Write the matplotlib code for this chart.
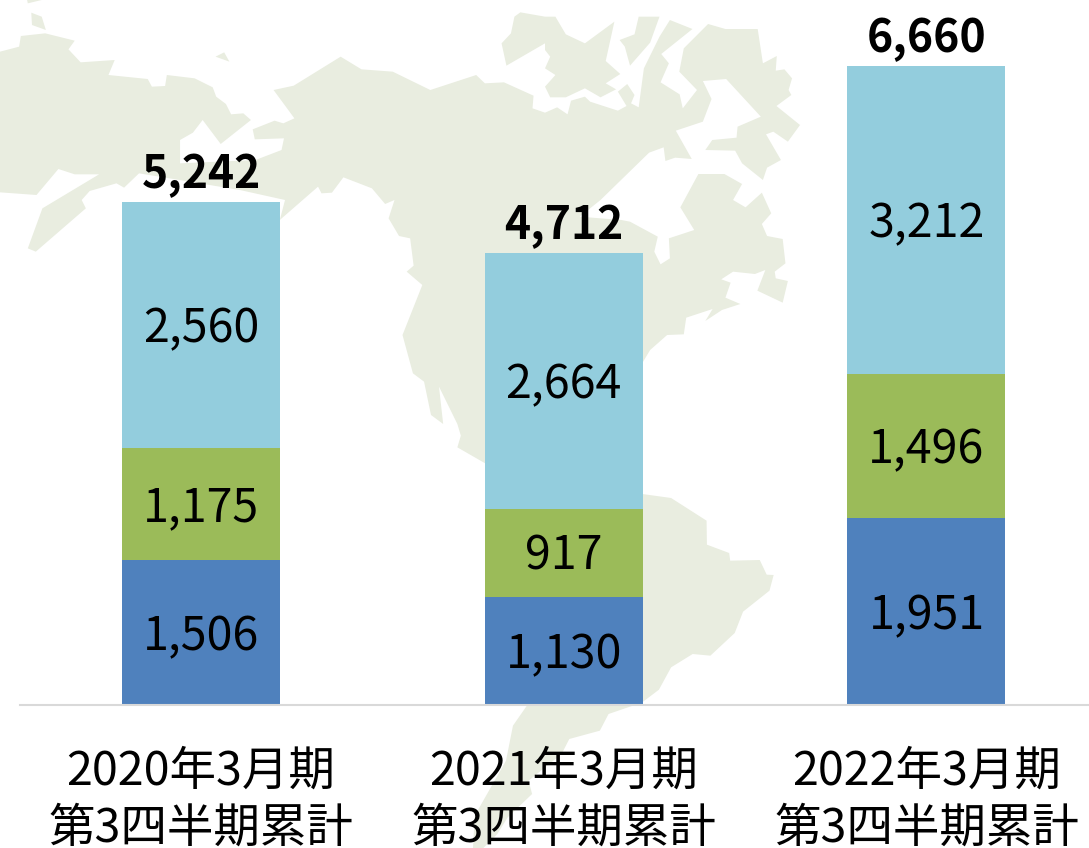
import numpy as np
import matplotlib
matplotlib.use('Agg')
import matplotlib.pyplot as plt
from matplotlib.patches import Polygon

plt.rcParams['font.family'] = ['Noto Sans CJK JP', 'DejaVu Sans']

### data
periods = ['2020年3月期\n第3四半期累計', '2021年3月期\n第3四半期累計', '2022年3月期\n第3四半期累計']
seg_bottom = [1506, 1130, 1951]
seg_middle = [1175, 917, 1496]
seg_top = [2560, 2664, 3212]
totals = [5242, 4712, 6660]

BLUE = '#4F81BD'
GREEN = '#9BBB59'
LIGHT = '#93CDDD'
LAND = '#E9EDE0'


### background map, outline traced in pixels of the zoomed crops
def crop1(pts):
    return [(x / 2.877, y / 3) for x, y in pts]

def crop2(pts):
    return [(545 + x / 2.882, y / 3) for x, y in pts]

def crop3(pts):
    return [(400 + x / 2.877, 424 + y / 3) for x, y in pts]

main_land = (
    crop1([(0, 155), (55, 140), (60, 108), (130, 100), (215, 122), (197, 148), (232, 187), (330, 180),
           (312, 225), (425, 237), (437, 260), (475, 258), (480, 225), (560, 235), (612, 262), (622, 290),
           (650, 312), (665, 343), (700, 340), (722, 360), (635, 432), (583, 360), (555, 398), (518, 420),
           (518, 490), (735, 480), (810, 450), (817, 415), (733, 418), (727, 388), (790, 362), (815, 370),
           (847, 355), (787, 270), (845, 257), (980, 170), (1040, 208), (1130, 215), (1238, 270), (1370, 225),
           (1395, 250), (1450, 247), (1535, 287), (1532, 325)])
    + crop2([(0, 338), (35, 322), (65, 343), (75, 302), (115, 290), (130, 305), (210, 332), (235, 318),
             (210, 275), (237, 252), (258, 285), (248, 310), (270, 322), (285, 205), (330, 110), (360, 60),
             (425, 87), (335, 162), (357, 190), (333, 247), (388, 283), (397, 325), (438, 270), (387, 215),
             (400, 145), (470, 72), (520, 87), (613, 87), (628, 190), (668, 168), (665, 212), (690, 208),
             (712, 235), (702, 270), (710, 285), (667, 318), (735, 375), (700, 425), (658, 395), (637, 403),
             (680, 480), (640, 503), (628, 540), (568, 490), (548, 452), (462, 450), (482, 420), (552, 413),
             (555, 380), (622, 350), (522, 237), (455, 243), (480, 297), (455, 365), (377, 392), (423, 477),
             (375, 473), (347, 483), (342, 442), (300, 458), (160, 600), (100, 650), (220, 660), (245, 665),
             (325, 710), (315, 755), (333, 793), (360, 775), (357, 715), (430, 690), (390, 622), (442, 522),
             (517, 522), (568, 552), (542, 600), (578, 622), (625, 578), (652, 640), (625, 672), (640, 708),
             (685, 717), (693, 790), (662, 815), (665, 835), (700, 843), (685, 908), (612, 872), (635, 810),
             (605, 822), (542, 815), (508, 838), (535, 848), (520, 893), (563, 912), (510, 930), (462, 963),
             (483, 927), (407, 953), (400, 1003), (352, 1005), (303, 1050), (280, 1090), (200, 1200)])
    + crop3([(600, 170), (697, 210), (780, 222), (882, 290), (883, 362), (947, 387), (950, 410), (1035, 408),
             (1055, 452), (1075, 453), (1063, 500), (987, 563), (963, 627), (893, 695), (842, 690), (780, 730),
             (745, 797), (697, 835), (670, 845), (600, 870), (575, 920), (487, 945), (465, 990), (370, 1070),
             (380, 1110), (310, 1180), (280, 1230), (240, 1272), (210, 1272), (215, 1175), (305, 1010),
             (325, 905), (365, 845), (300, 500), (245, 118), (165, 70), (175, 35), (165, 0)])
    + crop1([(1263, 1160), (1275, 1272), (1240, 1245), (1220, 1145), (1188, 1120), (1158, 1005),
             (1215, 855), (1170, 815), (1190, 797), (1180, 715), (1148, 708), (1118, 655), (1135, 600),
             (1108, 612), (1070, 565), (988, 532), (955, 578), (925, 580), (915, 560), (805, 660), (820, 600),
             (690, 570), (400, 520), (357, 563), (335, 550), (258, 573), (235, 600), (247, 625), (103, 755),
             (80, 745), (122, 625), (285, 523), (215, 523), (168, 507), (105, 585), (0, 577)])
)

islands = [
    crop1([(78, 0), (80, 10), (120, 0)]),
    crop1([(90, 38), (120, 50), (132, 90), (92, 75)]),
    crop1([(620, 170), (645, 157), (660, 185)]),
    crop1([(1443, 130), (1470, 100), (1480, 50), (1497, 37), (1568, 50)])
    + crop2([(30, 50), (60, 103), (115, 130), (200, 65), (175, 183), (217, 222), (175, 250), (205, 268),
             (160, 292), (115, 265), (60, 292), (15, 292), (0, 260), (30, 225), (0, 205), (15, 170), (0, 150)])
    + crop1([(1568, 130), (1457, 197)]),
    crop2([(215, 120), (258, 103), (270, 50), (330, 50), (303, 128), (245, 197), (230, 140)]),
]

fig = plt.figure(figsize=(10.89, 8.48), dpi=100, facecolor='white')

bg = fig.add_axes([0, 0, 1, 1])
bg.set_xlim(0, 1089)
bg.set_ylim(848, 0)
bg.axis('off')
bg.add_patch(Polygon(main_land, closed=True, facecolor=LAND, edgecolor='none'))
for pts in islands:
    bg.add_patch(Polygon(pts, closed=True, facecolor=LAND, edgecolor='none'))


### stacked bars
ax = fig.add_axes([20 / 1089, 143 / 848, 1069 / 1089, 705 / 848])
ax.patch.set_alpha(0)
x = np.arange(len(periods))
seg_bottom = np.array(seg_bottom)
seg_middle = np.array(seg_middle)
seg_top = np.array(seg_top)

width = 0.4356
ax.bar(x, seg_bottom, width, color=BLUE)
ax.bar(x, seg_middle, width, bottom=seg_bottom, color=GREEN)
ax.bar(x, seg_top, width, bottom=seg_bottom + seg_middle, color=LIGHT)

ax.set_xlim(-0.499, 2.448)
ax.set_ylim(0, 7347)

for i in x:
    for base, val in [(0, seg_bottom[i]), (seg_bottom[i], seg_middle[i]), (seg_bottom[i] + seg_middle[i], seg_top[i])]:
        ax.annotate(f'{val:,}', (i, base + val / 2), xytext=(0, -3), textcoords='offset points',
                    ha='center', va='center', fontsize=33.5, color='black')
    ax.annotate(f'{totals[i]:,}', (i, totals[i]), xytext=(0, 3), textcoords='offset points',
                ha='center', va='bottom', fontsize=32, fontweight='bold', color='black')

for side in ['top', 'right', 'left']:
    ax.spines[side].set_visible(False)
ax.spines['bottom'].set_color('#D9D9D9')
ax.spines['bottom'].set_linewidth(1.5)
ax.set_yticks([])
ax.set_xticks(x, periods, fontsize=33.5, linespacing=1.24)
ax.tick_params(axis='x', length=0, pad=30)

fig.savefig('out.png', dpi=100)
